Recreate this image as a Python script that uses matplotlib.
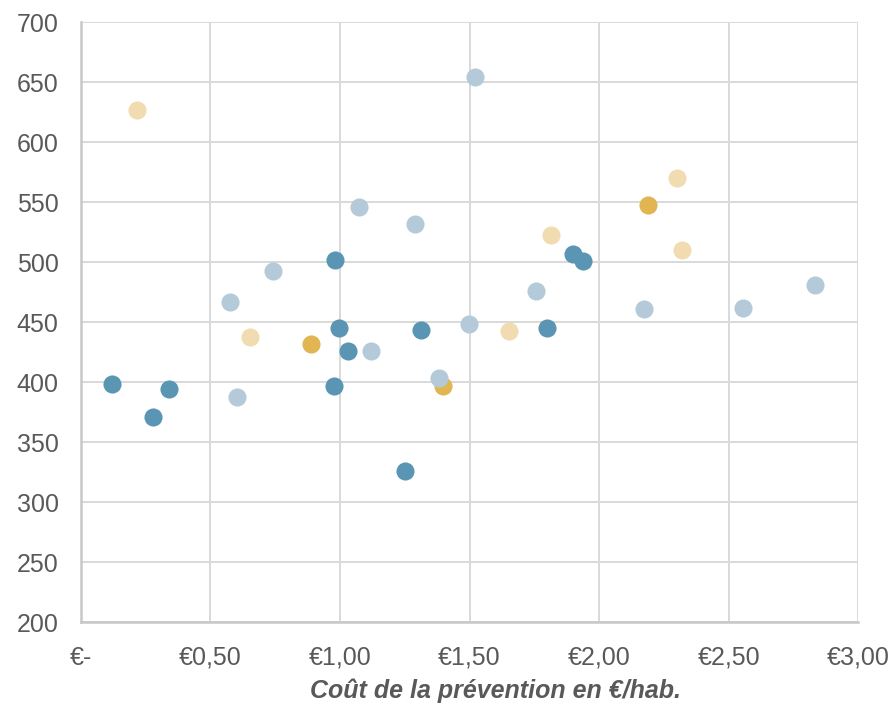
import matplotlib.pyplot as plt
from matplotlib.ticker import FuncFormatter, MultipleLocator

# cost of prevention (EUR/inhabitant) vs value, four groups
dark_x = [0.121, 0.279, 0.341, 0.981, 0.997, 1.031, 0.977, 1.313, 1.251, 1.799, 1.899, 1.938]
dark_y = [398.6, 371, 394, 502, 445, 426, 397, 443.6, 326, 445, 507, 501]
light_x = [1.521, 1.072, 1.290, 0.743, 0.574, 1.498, 1.118, 1.382, 0.604, 1.757, 2.172, 2.554, 2.833]
light_y = [654.4, 546, 531.7, 493, 466.7, 448.3, 426.3, 403.3, 387.7, 476.3, 461, 461.7, 480.8]
gold_x = [0.890, 1.396, 2.189]
gold_y = [432.2, 397, 547.5]
pale_x = [0.217, 0.652, 2.300, 1.814, 2.321, 1.651]
pale_y = [626.9, 437.5, 570.3, 522.5, 509.7, 442.5]

xlabel_text = 'Coût de la prévention en €/hab.'
text_color = '#595959'
grid_color = '#d9d9d9'
marker_size = 170

plt.rcParams['font.family'] = ['Liberation Sans', 'DejaVu Sans']

fig = plt.figure(figsize=(8.9, 7.04), dpi=100)
ax = fig.add_axes([0.0907, 0.1161, 0.9644 - 0.0907, 0.96875 - 0.1161])

ax.scatter(gold_x, gold_y, s=marker_size, color='#e0b552', linewidths=0, zorder=3)
ax.scatter(pale_x, pale_y, s=marker_size, color='#f1dcb1', linewidths=0, zorder=3)
ax.scatter(dark_x, dark_y, s=marker_size, color='#5a96b4', linewidths=0, zorder=3)
ax.scatter(light_x, light_y, s=marker_size, color='#b5cad9', linewidths=0, zorder=3)

ax.set_xlim(0, 3)
ax.set_ylim(200, 700)
ax.xaxis.set_major_locator(MultipleLocator(0.5))
ax.yaxis.set_major_locator(MultipleLocator(50))


def euro(v, pos):
    if abs(v) < 1e-9:
        return '€-'
    return '€' + ('%.2f' % v).replace('.', ',')


ax.xaxis.set_major_formatter(FuncFormatter(euro))
ax.tick_params(axis='both', length=0, labelsize=18, labelcolor=text_color)
ax.tick_params(axis='x', pad=17)
ax.tick_params(axis='y', pad=16)

ax.grid(True, color=grid_color, linewidth=1.4)
ax.set_axisbelow(True)
for side in ['top', 'right']:
    ax.spines[side].set_visible(False)
for side in ['left', 'bottom']:
    ax.spines[side].set_color('#c8c8c8')
    ax.spines[side].set_linewidth(1.8)

fig.text(0.557, 0.008, xlabel_text, ha='center', va='baseline', fontsize=18,
         fontweight='bold', fontstyle='italic', color=text_color,
         family=['Liberation Sans Narrow', 'Liberation Sans', 'DejaVu Sans'])

plt.savefig('out.png', dpi=100)
